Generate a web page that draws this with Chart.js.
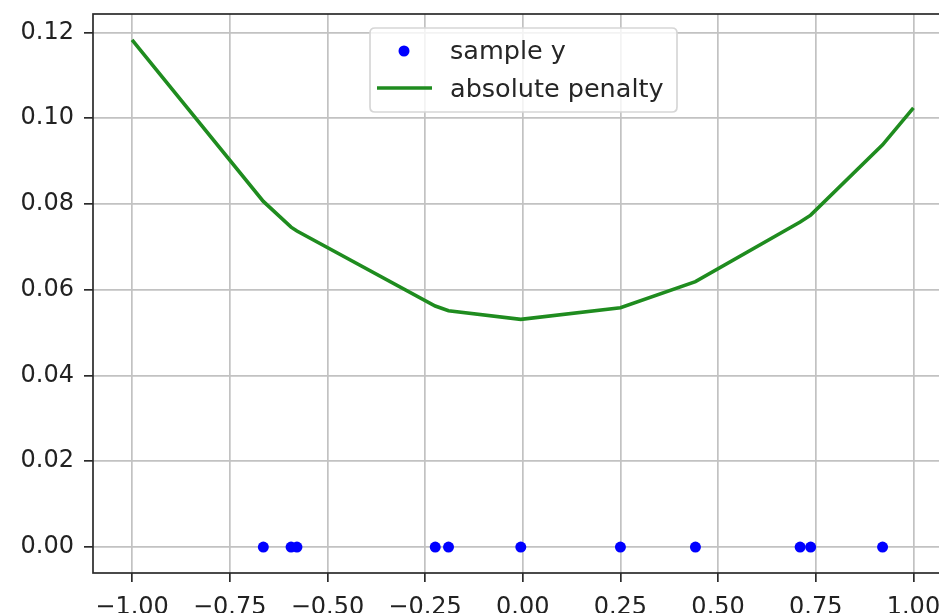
<!DOCTYPE html>
<html>
<head>
<meta charset="utf-8">
<script src="https://cdn.jsdelivr.net/npm/chart.js@4/dist/chart.umd.min.js"></script>
<style>
  html, body { margin: 0; padding: 0; background: #fff; overflow: hidden; }
  #wrap { width: 958px; height: 613px; }
</style>
</head>
<body>
<div id="wrap"><canvas id="c" width="958" height="613"></canvas></div>
<script>
// Sample positions (all drawn on y = 0)
const sampleX = [-0.664, -0.593, -0.578, -0.224, -0.190, -0.005, 0.250, 0.442, 0.710, 0.737, 0.921];
const sampleY = [0, 0, 0, 0, 0, 0, 0, 0, 0, 0, 0];

// Absolute-penalty curve, evaluated at the end points and the samples
const penaltyX = [-1.000, -0.664, -0.593, -0.578, -0.224, -0.190, -0.005, 0.250, 0.442, 0.710, 0.737, 0.921, 1.000];
const penaltyY = [0.1183, 0.0806, 0.0746, 0.0737, 0.0562, 0.0551, 0.0531, 0.0558, 0.0619, 0.0758, 0.0774, 0.0938, 0.1024];

// Axis ticks
const xTicks = [-1.00, -0.75, -0.50, -0.25, 0.00, 0.25, 0.50, 0.75, 1.00];
const yTicks = [0.00, 0.02, 0.04, 0.06, 0.08, 0.10, 0.12];

const seriesLabels = ['sample y', 'absolute penalty'];
const BLUE = '#0000ff';
const GREEN = '#1f8c1f';
const FONT = "'DejaVu Sans', sans-serif";

function fmt(v, d) {
  const s = Math.abs(v).toFixed(d);
  return (v < 0 && Number(s) !== 0 ? '\u2212' : '') + s;
}

// Full box around the plot area, drawn over the grid and data
const frame = {
  id: 'frame',
  afterDatasetsDraw(chart) {
    const { ctx, chartArea: a } = chart;
    ctx.save();
    ctx.strokeStyle = '#2b2b2b';
    ctx.lineWidth = 1.7;
    ctx.strokeRect(a.left, a.top, a.right - a.left, a.bottom - a.top);
    ctx.restore();
  }
};

// Legend box inside the plot, upper centre
const boxLegend = {
  id: 'boxLegend',
  afterDraw(chart) {
    const ctx = chart.ctx;
    const x0 = 370, y0 = 28, x1 = 677, y1 = 112, r = 5;
    ctx.save();
    ctx.beginPath();
    ctx.moveTo(x0 + r, y0);
    ctx.lineTo(x1 - r, y0);
    ctx.quadraticCurveTo(x1, y0, x1, y0 + r);
    ctx.lineTo(x1, y1 - r);
    ctx.quadraticCurveTo(x1, y1, x1 - r, y1);
    ctx.lineTo(x0 + r, y1);
    ctx.quadraticCurveTo(x0, y1, x0, y1 - r);
    ctx.lineTo(x0, y0 + r);
    ctx.quadraticCurveTo(x0, y0, x0 + r, y0);
    ctx.closePath();
    ctx.fillStyle = 'rgba(255,255,255,0.8)';
    ctx.fill();
    ctx.strokeStyle = '#d6d6d6';
    ctx.lineWidth = 1.7;
    ctx.stroke();

    const ds = chart.data.datasets;
    // marker entry
    ctx.fillStyle = ds[0].backgroundColor;
    ctx.beginPath();
    ctx.arc(404, 51, 5.5, 0, Math.PI * 2);
    ctx.fill();
    // line entry
    ctx.strokeStyle = ds[1].borderColor;
    ctx.lineWidth = 3.5;
    ctx.beginPath();
    ctx.moveTo(377, 88);
    ctx.lineTo(432, 88);
    ctx.stroke();

    ctx.fillStyle = '#262626';
    ctx.font = "25.5px " + FONT;
    ctx.textBaseline = 'middle';
    ctx.textAlign = 'left';
    ctx.fillText(ds[0].label, 450, 52);
    ctx.fillText(ds[1].label, 450, 90);
    ctx.restore();
  }
};

new Chart(document.getElementById('c'), {
  type: 'scatter',
  data: {
    datasets: [
      {
        label: seriesLabels[0],
        data: sampleX.map((x, i) => ({ x: x, y: sampleY[i] })),
        backgroundColor: BLUE,
        borderColor: BLUE,
        borderWidth: 0,
        pointRadius: 5.5,
        showLine: false
      },
      {
        label: seriesLabels[1],
        data: penaltyX.map((x, i) => ({ x: x, y: penaltyY[i] })),
        borderColor: GREEN,
        backgroundColor: GREEN,
        borderWidth: 3.6,
        pointRadius: 0,
        showLine: true,
        tension: 0
      }
    ]
  },
  options: {
    responsive: false,
    animation: false,
    devicePixelRatio: 1,
    layout: { padding: { top: 14, left: 0, right: 0, bottom: 0 } },
    plugins: { legend: { display: false }, tooltip: { enabled: false } },
    scales: {
      x: {
        type: 'linear',
        min: -1.1,
        max: 1.1,
        afterBuildTicks: s => { s.ticks = xTicks.map(v => ({ value: v })); },
        afterFit: s => { s.height = 40; s.paddingLeft = 0; s.paddingRight = 0; },
        border: { display: false },
        grid: { color: '#c2c2c2', lineWidth: 1.7, tickLength: 9, tickColor: '#2b2b2b', tickWidth: 1.7 },
        ticks: {
          font: { family: FONT, size: 24 },
          color: '#222',
          padding: 11,
          maxRotation: 0,
          minRotation: 0,
          autoSkip: false,
          callback: v => fmt(v, 2)
        }
      },
      y: {
        type: 'linear',
        min: -0.00606,
        max: 0.12431,
        afterBuildTicks: s => { s.ticks = yTicks.map(v => ({ value: v })); },
        afterFit: s => { s.width = 93; s.paddingTop = 0; s.paddingBottom = 0; },
        border: { display: false },
        grid: { color: '#c2c2c2', lineWidth: 1.7, tickLength: 9, tickColor: '#2b2b2b', tickWidth: 1.7 },
        ticks: {
          font: { family: FONT, size: 24 },
          color: '#222',
          padding: 10,
          autoSkip: false,
          callback: v => fmt(v, 2)
        }
      }
    }
  },
  plugins: [frame, boxLegend]
});
</script>
</body>
</html>
